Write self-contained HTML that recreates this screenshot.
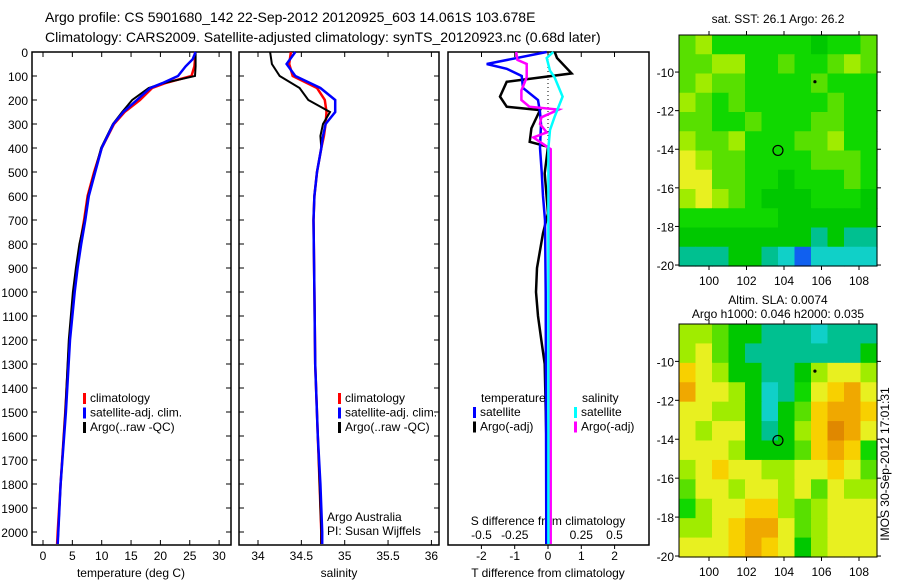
<!DOCTYPE html>
<html><head><meta charset="utf-8">
<style>
body{margin:0;background:#fff;}
svg{display:block;font-family:"Liberation Sans",sans-serif;}
text{font-size:12px;fill:#000;}
</style></head>
<body>
<svg id="c" width="900" height="580" viewBox="0 0 900 580">
<text x="45" y="22" style="font-size:14px">Argo profile: CS 5901680_142 22-Sep-2012 20120925_603 14.061S 103.678E</text>
<text x="45" y="42" style="font-size:14px">Climatology: CARS2009. Satellite-adjusted climatology: synTS_20120923.nc (0.68d later)</text>
<text x="895" y="470" transform="rotate(-90 889 470)" text-anchor="middle">IMOS 30-Sep-2012 17:01:31</text>
</svg>
<script>
// ---------- data ----------
const depthT = [0,30,60,100,130,150,200,250,300,400,500,600,700,800,900,1000,1200,1500,1800,2000,2050];
const tempClim = [25.9,25.9,25.8,25.3,20.8,18.6,16.5,13.9,12.1,10.0,8.7,7.6,7.0,6.3,5.8,5.3,4.5,3.8,3.0,2.5,2.4];
const tempSat  = [26.0,25.5,24.3,23.0,20.3,18.3,16.0,13.7,12.0,10.0,8.9,7.8,7.2,6.5,5.9,5.4,4.6,3.9,3.0,2.6,2.5];
const tempArgo = [26.0,26.0,26.0,25.9,20.5,18.0,15.2,13.5,11.9,9.9,8.8,7.7,7.1,6.2,5.6,5.1,4.4,3.8,3.0,2.6,2.5];
const depthS = [0,50,100,150,200,250,300,350,400,500,600,700,1000,1300,1600,1800,2000,2050];
const salClim = [34.38,34.36,34.40,34.68,34.77,34.79,34.78,34.76,34.73,34.68,34.65,34.64,34.65,34.66,34.69,34.71,34.73,34.73];
const salSat  = [34.43,34.33,34.43,34.72,34.89,34.89,34.78,34.75,34.73,34.68,34.65,34.64,34.65,34.66,34.69,34.72,34.74,34.74];
const salArgo = [34.14,34.16,34.25,34.48,34.58,34.83,34.75,34.72,34.73,34.68,34.65,34.64,34.65,34.66,34.69,34.71,34.73,34.73];
const depthDT = [0,25,89,124,186,228,242,318,374,395,506,672,755,900,1000,1100,1200,1300,1600,2050];
const dTArgo = [0.2,0.27,0.71,-1.24,-1.44,-1.24,-0.24,-0.5,-0.55,0,-0.1,0,-0.15,-0.33,-0.36,-0.3,-0.2,-0.1,-0.05,-0.05];
const depthDTs = [0,50,70,100,150,200,250,300,400,500,600,700,1000,1500,2050];
const dTSat = [-0.04,-1.84,-1.24,-0.79,-0.75,-0.3,-0.24,-0.21,-0.24,-0.19,-0.15,-0.09,-0.07,-0.06,-0.05];
const depthDS = [0,25,78,106,186,270,325,400,700,1200,2050];
const dSSat = [0.04,-0.01,0.015,0.05,0.11,0.05,0.015,0.003,0.003,0.003,0.003];
const depthDSa = [0,33,50,106,160,200,228,240,272,300,335,356,405,700,1300,2050];
const dSArgo = [-0.24,-0.23,-0.16,-0.16,-0.2,-0.2,-0.14,0.08,-0.05,-0.06,-0.01,-0.11,0.02,0.02,0.02,0.02];
const sstGrid = [
[5,6,4,4,4,4,4,4,3,4,4,5],[5,5,6,6,4,4,5,4,4,5,6,5],[5,6,5,5,4,4,4,4,5,4,4,4],
[6,5,4,5,4,4,4,4,4,5,4,4],[5,5,4,4,5,4,4,4,5,5,4,4],[6,5,5,6,4,4,4,5,5,6,4,4],
[7,6,5,5,4,4,4,4,5,5,5,4],[7,7,5,5,4,4,3,4,4,4,5,4],[6,7,6,5,4,3,3,3,4,4,4,3],
[4,4,4,4,4,4,3,3,3,3,3,3],[3,3,3,3,3,3,3,3,2,3,2,2],[2,2,2,3,3,2,1,0,1,1,1,1]];
const slaGrid = [
[6,6,5,3,3,2,2,2,1,2,2,2],[6,7,5,3,2,2,2,2,2,2,2,3],[8,7,6,3,3,2,2,3,6,7,7,6],
[9,7,7,6,3,1,2,4,7,8,9,7],[7,7,6,6,3,1,3,5,8,9,9,8],[7,6,7,7,3,2,3,6,8,10,9,7],
[7,7,7,6,3,3,3,5,8,9,8,4],[6,7,8,7,7,6,6,7,7,8,7,5],[5,7,7,6,7,7,6,7,5,7,6,6],
[4,6,7,7,8,8,6,5,6,7,7,7],[6,6,7,8,9,9,7,5,6,7,7,7],[7,7,7,8,9,8,7,3,6,7,7,7]];
const argoLon = 103.678, argoLat = -14.061;
const tempTicks = [0,5,10,15,20,25,30];
const salTicks = [34,34.5,35,35.5,36];
const dTTicks = [-2,-1,0,1,2];
const dSTicks = [-0.5,-0.25,0,0.25,0.5];
const dSTickLabels = ['-0.5','-0.25','0','0.25','0.5'];
const depthTicks = [0,100,200,300,400,500,600,700,800,900,1000,1100,1200,1300,1400,1500,1600,1700,1800,1900,2000];
const latTicks = [-10,-12,-14,-16,-18,-20];
const lonTicks = [100,102,104,106,108];
const palette = ['#1060f0','#10d0c8','#00c090','#00c800','#10d800','#58e000','#a0ec00','#e8f020','#f8d000','#f0a800','#e08800'];

// ---------- helpers ----------
const svg = document.getElementById('c');
const NS = 'http://www.w3.org/2000/svg';
function mk(tag, attrs, parent){const e=document.createElementNS(NS,tag);for(const k in attrs)e.setAttribute(k,attrs[k]);(parent||svg).appendChild(e);return e;}
function txt(x,y,s,anchor,parent){const t=mk('text',{x:x,y:y,'text-anchor':anchor||'start'},parent);t.textContent=s;return t;}
const yD = d => 52 + d*0.24;
const PB = 545;

function panel(x0,x1,name){
  const g=mk('g',{});
  
  
  const r=mk('rect',{x:x0,y:52,width:x1-x0,height:PB-52,fill:'none',stroke:'#000','stroke-width':1.5},g);
  
  
  depthTicks.forEach(d=>{mk('line',{x1:x0,x2:x0+5,y1:yD(d),y2:yD(d),stroke:'#000'},g);mk('line',{x1:x1-5,x2:x1,y1:yD(d),y2:yD(d),stroke:'#000'},g);});
  return g;
}
function xTicks(g,vals,labels,fx,yl,top){
  vals.forEach((v,i)=>{const x=fx(v);
    mk('line',{x1:x,x2:x,y1:PB,y2:PB-5,stroke:'#000'},g);
    if(top) mk('line',{x1:x,x2:x,y1:52,y2:57,stroke:'#000'},g);
    const t=txt(x,yl,labels[i],'middle',g);
    
    
  });
}
function line(g,xs,ds,fx,color,w,name){
  const pts=xs.map((v,i)=>fx(v).toFixed(1)+','+yD(ds[i]).toFixed(1)).join(' ');
  const p=mk('polyline',{points:pts,fill:'none',stroke:color,'stroke-width':w,'stroke-linejoin':'miter'},g);
  
  
}
function legend(g,x,y,items){
  items.forEach((it,i)=>{
    const yy=y+i*14.5;
    mk('rect',{x:x,y:yy-9,width:3,height:11,fill:it[0]},g);
    const t=txt(x+7,yy,it[1],'start',g);
    
    
  });
}

// ---------- panel 1: temperature ----------
const fT = v => 43 + v*5.87;
const g1 = panel(32,231,'temperature-panel');
depthTicks.forEach(d=>{const t=txt(28,yD(d)+5,String(d),'end',g1);
  
  });
xTicks(g1,tempTicks,tempTicks.map(String),fT,560,true);
const xl1=txt(131,577,'temperature (deg C)','middle',g1);


line(g1,tempClim,depthT,fT,'#ff0000',2.5,'temp-climatology-line');
line(g1,tempArgo,depthT,fT,'#000000',2,'temp-argo-line');
line(g1,tempSat,depthT,fT,'#0000ff',2.5,'temp-satellite-line');
legend(g1,83,402,[['#ff0000','climatology'],['#0000ff','satellite-adj. clim.'],['#000','Argo(..raw -QC)']]);

// ---------- panel 2: salinity ----------
const fS = v => 258 + (v-34)*86.7;
const g2 = panel(239,439,'salinity-panel');
xTicks(g2,salTicks,['34','34.5','35','35.5','36'],fS,560,true);
const xl2=txt(339,577,'salinity','middle',g2);


line(g2,salClim,depthS,fS,'#ff0000',2.5,'sal-climatology-line');
line(g2,salArgo,depthS,fS,'#000000',2,'sal-argo-line');
line(g2,salSat,depthS,fS,'#0000ff',2.5,'sal-satellite-line');
legend(g2,338,402,[['#ff0000','climatology'],['#0000ff','satellite-adj. clim.'],['#000','Argo(..raw -QC)']]);
const a1=txt(327,521,'Argo Australia','start',g2);


const a2=txt(327,535,'PI: Susan Wijffels','start',g2);



// ---------- panel 3: differences ----------
const fdT = v => 548 + v*33.3;
const fdS = v => 548 + v*133;
const g3 = mk('g',{});


const r3=mk('rect',{x:448,y:52,width:201,height:PB-52,fill:'none',stroke:'#000','stroke-width':1.5},g3);


dSTicks.forEach(v=>mk('line',{x1:fdS(v),x2:fdS(v),y1:52,y2:57,stroke:'#000'},g3));
dTTicks.forEach((v,i)=>{const x=fdT(v);mk('line',{x1:x,x2:x,y1:PB,y2:PB+4,stroke:'#000'},g3);
  const t=txt(x,560,String(v),'middle',g3);
  
  });
dSTicks.forEach((v,i)=>{const t=txt(fdS(v),539,dSTickLabels[i],'middle',g3);
  
  });
const sl=txt(548,525,'S difference from climatology','middle',g3);


const tl=txt(548,577,'T difference from climatology','middle',g3);


mk('line',{x1:fdT(0),x2:fdT(0),y1:55,y2:160,stroke:'#000','stroke-dasharray':'1,3'},g3);
line(g3,dTArgo,depthDT,fdT,'#000000',2.5,'t-diff-argo-line');
line(g3,dTSat,depthDTs,fdT,'#0000ff',2.5,'t-diff-satellite-line');
line(g3,dSArgo,depthDSa,fdS,'#ff00ff',2.5,'s-diff-argo-line');
line(g3,dSSat,depthDS,fdS,'#00ffff',2.5,'s-diff-satellite-line');
const lt=txt(481,402,'temperature','start',g3);


const ls=txt(582,402,'salinity','start',g3);


legend(g3,473,416,[['#0000ff','satellite'],['#000','Argo(-adj)']]);
legend(g3,574,416,[['#00ffff','satellite'],['#ff00ff','Argo(-adj)']]);

// ---------- maps ----------
function map(top,bottom,grid,title1,title2,name){
  const g=mk('g',{});
  
  
  const L=679,R=877;
  const latTop=-8.08, latBot=-20.05;
  const fy = la => top + (latTop-la)/(latTop-latBot)*(bottom-top);
  const fx = lo => 709 + (lo-100)*18.75;
  const rows=grid.length, cols=grid[0].length;
  const cw=(R-L)/cols, ch=(bottom-top)/rows;
  grid.forEach((row,ri)=>row.forEach((v,ci)=>{
    const c=mk('rect',{x:L+ci*cw,y:top+ri*ch,width:cw+0.6,height:ch+0.6,fill:palette[v]},g);
    
    
  }));
  mk('rect',{x:L,y:top,width:R-L,height:bottom-top,fill:'none',stroke:'#000','stroke-width':1},g);
  latTicks.forEach(la=>{const y=fy(la);mk('line',{x1:L-4,x2:L,y1:y,y2:y,stroke:'#000'},g);mk('line',{x1:R,x2:R+4,y1:y,y2:y,stroke:'#000'},g);
    const t=txt(L-5,y+5,String(la),'end',g);
    
    });
  lonTicks.forEach(lo=>{const x=fx(lo);mk('line',{x1:x,x2:x,y1:top-4,y2:top,stroke:'#000'},g);mk('line',{x1:x,x2:x,y1:bottom,y2:bottom+4,stroke:'#000'},g);
    const t=txt(x,bottom+19,String(lo),'middle',g);
    
    });
  const c=mk('circle',{cx:fx(argoLon),cy:fy(argoLat),r:5,fill:'none',stroke:'#000','stroke-width':1.2},g);
  
  
  mk('circle',{cx:fx(105.65),cy:fy(-10.5),r:1.6,fill:'#000'},g);
  if(title2){
    const t1=txt(778,top-20,title1,'middle',g);
    
    
    const t2=txt(778,top-6,title2,'middle',g);
    
    
  } else {
    const t1=txt(778,top-12,title1,'middle',g);
    
    
  }
}
map(35,266,sstGrid,'sat. SST: 26.1 Argo: 26.2',null,'sst-map');
map(324,557,slaGrid,'Altim. SLA: 0.0074','Argo h1000: 0.046 h2000: 0.035','sla-map');
</script>
</body></html>
